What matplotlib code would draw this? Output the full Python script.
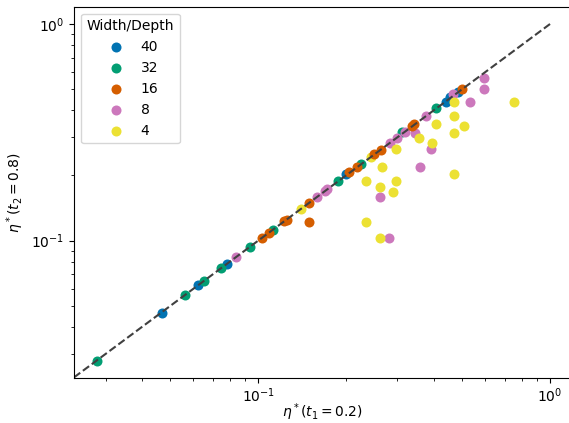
import matplotlib
matplotlib.use("Agg")
import matplotlib.pyplot as plt
import numpy as np

# eta* at t1 = 0.2 (x) vs t2 = 0.8 (y), one group per width/depth ratio
x40 = [0.0467, 0.0621, 0.0783, 0.2001, 0.4395, 0.4536, 0.4832]
y40 = [0.0465, 0.0622, 0.0778, 0.2031, 0.4387, 0.4603, 0.4855]

x32 = [0.0280, 0.0562, 0.0654, 0.0748, 0.0936, 0.1124, 0.1872, 0.2245, 0.3103, 0.4061]
y32 = [0.0279, 0.0560, 0.0652, 0.0746, 0.0932, 0.1117, 0.1880, 0.2259, 0.3157, 0.4083]

x16 = [0.1029, 0.1089, 0.1227, 0.1251, 0.1496, 0.1496, 0.2049, 0.2188, 0.2493,
       0.2630, 0.3379, 0.3425, 0.4995]
y16 = [0.1026, 0.1089, 0.1227, 0.1246, 0.1497, 0.1216, 0.2068, 0.2195, 0.2504,
       0.2630, 0.3383, 0.3437, 0.5003]

x8 = [0.0842, 0.1591, 0.1698, 0.1725, 0.2819, 0.2999, 0.3174, 0.3440, 0.3753,
      0.3905, 0.3593, 0.2623, 0.2817, 0.4663, 0.5313, 0.5942, 0.5942]
y8 = [0.0838, 0.1591, 0.1701, 0.1732, 0.2810, 0.2993, 0.3184, 0.3130, 0.3742,
      0.2658, 0.2182, 0.1591, 0.1029, 0.4728, 0.4387, 0.5615, 0.5012]

x4 = [0.1399, 0.2443, 0.2965, 0.2651, 0.2341, 0.2965, 0.2623, 0.2906, 0.2341,
      0.2623, 0.3565, 0.3935, 0.4061, 0.4693, 0.4693, 0.5054, 0.4693, 0.4693, 0.7509]
y4 = [0.1403, 0.2438, 0.2643, 0.2184, 0.1882, 0.1882, 0.1775, 0.1681, 0.1216,
      0.1029, 0.2993, 0.2815, 0.3437, 0.4378, 0.3750, 0.3372, 0.3130, 0.2031, 0.4365]

groups = {
    "40": (x40, y40, "#0173B2"),
    "32": (x32, y32, "#029E73"),
    "16": (x16, y16, "#D55E00"),
    "8": (x8, y8, "#CC78BC"),
    "4": (x4, y4, "#ECE133"),
}
legend_order = ["40", "32", "16", "8", "4"]
draw_order = ["40", "32", "8", "4", "16"]

fig = plt.figure(figsize=(5.69, 4.23), dpi=100)
ax = fig.add_axes([0.130, 0.1057, 0.8726, 0.8785])

handles = {}
for k in draw_order:
    xs, ys, c = groups[k]
    handles[k] = ax.scatter(xs, ys, s=52, color=c, linewidths=0, label=k)

lo, hi = 0.0234, 1.0
ax.plot([lo, hi], [lo, hi], ls="--", color="0.25", lw=1.5)

ax.set_xscale("log")
ax.set_yscale("log")
ax.set_xlim(0.02339, 1.175)
ax.set_ylim(0.02317, 1.202)
ax.tick_params(axis="x", which="both", pad=2.5)

ax.set_xlabel(r"$\eta^*(t_1 = 0.2)$", labelpad=-3)
ax.set_ylabel(r"$\eta^*(t_2 = 0.8)$")

ax.legend([handles[k] for k in legend_order], legend_order,
          title="Width/Depth", loc="upper left")

fig.savefig("out.png", dpi=100)
